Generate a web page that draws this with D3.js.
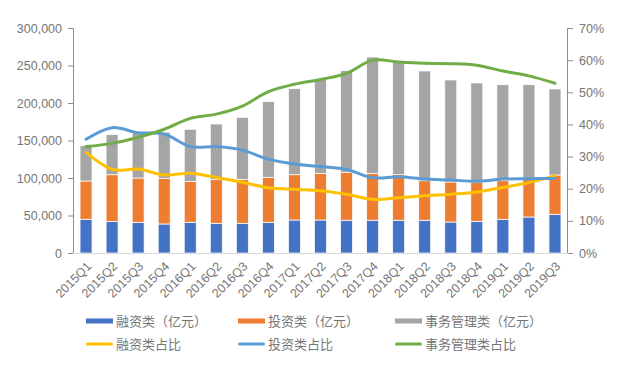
<!DOCTYPE html>
<html>
<head>
<meta charset="utf-8">
<script src="https://cdn.jsdelivr.net/npm/d3@7"></script>
<style>
  body { margin: 0; background: #fff; }
  text { font-family: "Liberation Sans", "Noto Sans CJK SC", sans-serif; }
</style>
</head>
<body>
<div id="chart"></div>
<script>
// Quarters shown on the x axis
var quarters = ['2015Q1','2015Q2','2015Q3','2015Q4','2016Q1','2016Q2','2016Q3','2016Q4',
  '2017Q1','2017Q2','2017Q3','2017Q4','2018Q1','2018Q2','2018Q3','2018Q4','2019Q1','2019Q2','2019Q3'];

// Stacked bar values (亿元), read as cumulative tops then split
var financing = [45000, 41800, 41000, 38700, 41000, 39600, 39600, 41000, 44000, 44000,
  43700, 43700, 43700, 43700, 41300, 42200, 44900, 48000, 51600];
var investTop = [96000, 104400, 100000, 99600, 95600, 97800, 98200, 100900, 104400, 106200,
  107600, 106200, 104400, 96400, 94700, 93800, 96400, 98200, 104000];
var affairsTop = [143000, 157800, 160000, 161000, 165000, 172000, 180900, 201800, 219100, 232000,
  243100, 261300, 254000, 242700, 230700, 226700, 224400, 224400, 218700];

// Share lines (right axis)
var financingShare = [31.3, 26.0, 26.1, 24.3, 24.8, 23.5, 22.0, 20.3, 19.8, 19.4,
  18.3, 16.7, 17.2, 17.8, 18.3, 19.0, 20.4, 21.9, 24.0];
var investShare = [35.4, 39.0, 37.4, 37.0, 33.1, 33.1, 32.0, 29.2, 27.7, 26.9,
  26.0, 23.4, 23.7, 23.0, 22.7, 22.3, 23.0, 23.1, 23.2];
var affairsShare = [33.1, 34.1, 36.0, 38.5, 41.9, 43.2, 45.7, 50.2, 52.5, 54.0,
  55.9, 60.0, 59.4, 59.0, 58.9, 58.4, 56.6, 55.1, 52.8];

var leftTicks = [0, 50000, 100000, 150000, 200000, 250000, 300000];
var rightTicks = [0, 10, 20, 30, 40, 50, 60, 70];

var svgWidth = 618;
var svgHeight = 365;
var margin = { top: 28, right: 50, bottom: 112, left: 73 };
var chartWidth = svgWidth - margin.left - margin.right;
var chartHeight = svgHeight - margin.top - margin.bottom;

var svg = d3.select('#chart').append('svg')
  .attr('width', svgWidth)
  .attr('height', svgHeight);

var chartGroup = svg.append('g')
  .attr('transform', `translate(${margin.left}, ${margin.top})`);

var xScale = d3.scaleBand().domain(quarters).range([0, chartWidth]).paddingInner(0.54).paddingOuter(0.27);
var yLeft = d3.scaleLinear().domain([0, 300000]).range([chartHeight, 0]);
var yRight = d3.scaleLinear().domain([0, 70]).range([chartHeight, 0]);

// build stacked rows
var rows = quarters.map((q, i) => ({
  q: q,
  fin: financing[i],
  inv: investTop[i] - financing[i],
  aff: affairsTop[i] - investTop[i]
}));
var stack = d3.stack().keys(['fin', 'inv', 'aff'])(rows);
var barColors = { fin: '#4472C4', inv: '#ED7D31', aff: '#A5A5A5' };

chartGroup.append('g')
  .selectAll('g')
  .data(stack)
  .enter()
  .append('g')
  .attr('fill', d => barColors[d.key])
  .selectAll('rect')
  .data(d => d)
  .enter()
  .append('rect')
  .attr('x', d => xScale(d.data.q))
  .attr('width', xScale.bandwidth())
  .attr('y', d => yLeft(d[1]))
  .attr('height', d => yLeft(d[0]) - yLeft(d[1]))
  .attr('stroke', '#fff')
  .attr('stroke-width', 0.75);

// axes
var axisColor = '#8c8c8c';
var textColor = '#767676';

var leftAxis = chartGroup.append('g')
  .call(d3.axisLeft(yLeft).tickValues(leftTicks).tickFormat(d3.format(',')).tickSize(5).tickPadding(6));
var rightAxis = chartGroup.append('g')
  .attr('transform', `translate(${chartWidth}, 0)`)
  .call(d3.axisRight(yRight).tickValues(rightTicks).tickFormat(d => d + '%').tickSize(5).tickPadding(6));

[leftAxis, rightAxis].forEach(a => {
  a.select('.domain').attr('stroke', axisColor).attr('d', a === leftAxis
    ? `M-5,0.5H0.5V${chartHeight}` : `M5,0.5H-0.5V${chartHeight}`);
  a.selectAll('line').attr('stroke', axisColor);
  a.selectAll('text').attr('fill', textColor).attr('font-size', '12.5px');
});

var xAxis = chartGroup.append('g')
  .attr('transform', `translate(0, ${chartHeight})`)
  .call(d3.axisBottom(xScale).tickSize(0).tickPadding(0));
xAxis.select('.domain').attr('stroke', '#d9d9d9');
xAxis.selectAll('text')
  .attr('fill', textColor)
  .attr('font-size', '12.5px')
  .attr('text-anchor', 'end')
  .attr('dy', '0.35em')
  .attr('transform', 'translate(3, 11) rotate(-45)');

// share lines
var lineGen = d3.line()
  .x((d, i) => xScale(quarters[i]) + xScale.bandwidth() / 2)
  .y(d => yRight(d))
  .curve(d3.curveCatmullRom.alpha(0));

var lines = [
  { values: financingShare, color: '#FFC000' },
  { values: investShare, color: '#5B9BD5' },
  { values: affairsShare, color: '#70AD47' }
];

chartGroup.append('g')
  .selectAll('path')
  .data(lines)
  .enter()
  .append('path')
  .attr('d', d => lineGen(d.values))
  .attr('fill', 'none')
  .attr('stroke', d => d.color)
  .attr('stroke-width', 3)
  .attr('stroke-linecap', 'round');

// legend
var legendItems = [
  { label: '融资类（亿元）', color: '#4472C4', bar: true },
  { label: '投资类（亿元）', color: '#ED7D31', bar: true },
  { label: '事务管理类（亿元）', color: '#A5A5A5', bar: true },
  { label: '融资类占比', color: '#FFC000', bar: false },
  { label: '投资类占比', color: '#5B9BD5', bar: false },
  { label: '事务管理类占比', color: '#70AD47', bar: false }
];
var legendX = [86, 238, 395];
var legendY = [321, 344];

var legend = svg.append('g')
  .selectAll('g')
  .data(legendItems)
  .enter()
  .append('g')
  .attr('transform', (d, i) => `translate(${legendX[i % 3]}, ${legendY[Math.floor(i / 3)]})`);

legend.append('rect')
  .attr('x', 0)
  .attr('y', d => d.bar ? -2.5 : -1.5)
  .attr('width', 27)
  .attr('height', d => d.bar ? 5 : 3)
  .attr('rx', d => d.bar ? 0 : 1.5)
  .attr('fill', d => d.color);

legend.append('text')
  .attr('x', 30)
  .attr('dy', '0.35em')
  .attr('font-size', '13px')
  .attr('fill', textColor)
  .text(d => d.label);
</script>
</body>
</html>
